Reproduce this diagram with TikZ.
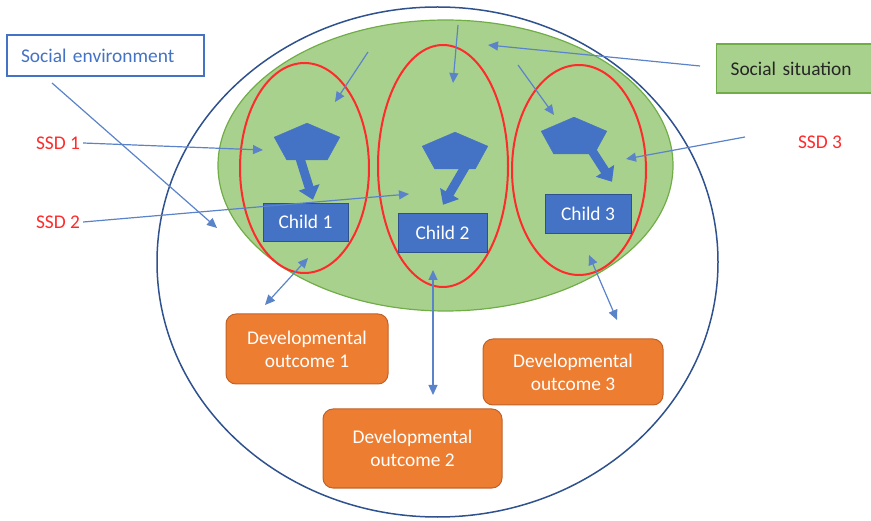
\documentclass[tikz,border=0pt]{standalone}
\usepackage{fontspec}
\setmainfont{Carlito}
\usetikzlibrary{shapes.geometric,arrows.meta,calc}

\definecolor{boxblue}{HTML}{4472C4}
\definecolor{darkblue}{HTML}{2F528F}
\definecolor{linkblue}{HTML}{5B83C9}
\definecolor{leafgreen}{HTML}{A9D18E}
\definecolor{edgegreen}{HTML}{70AD47}
\definecolor{outorange}{HTML}{ED7D31}
\definecolor{edgeorange}{HTML}{C0622A}
\definecolor{ssdred}{HTML}{FF2A2A}

\tikzset{
  lbl/.style={font=\fontsize{19.4}{23}\selectfont},
  child/.style={lbl, rectangle, fill=boxblue, draw=darkblue, text=white, minimum height=38pt, inner sep=0pt},
  outcome/.style={lbl, rectangle, rounded corners=10pt, fill=outorange, draw=edgeorange, line width=1pt, text=white, align=center, inner sep=0pt},
  pent/.style={regular polygon, regular polygon sides=5, minimum size=69pt, inner sep=0pt, fill=boxblue, draw=boxblue, yscale=0.59, transform shape},
  ring/.style={ellipse, inner sep=0pt, draw=ssdred, line width=2pt},
  ssd/.style={lbl, text=ssdred, inner sep=3pt},
  link/.style={draw=linkblue, line width=1.2pt, -{Triangle[length=10pt,width=9pt]}},
  twoway/.style={draw=linkblue, line width=1.2pt, {Triangle[length=10pt,width=9pt]}-{Triangle[length=10pt,width=9pt]}},
  fat/.style={draw=boxblue, line width=9pt, -{Triangle[length=13pt,width=21pt]}},
}

\begin{document}
\begin{tikzpicture}[x=1pt,y=-1pt]
\useasboundingbox (0,0) rectangle (871,521);

% situation and environment
\node[ellipse, inner sep=0pt, fill=leafgreen, draw=edgegreen, line width=1.2pt, minimum width=455pt, minimum height=291pt] (field) at (445.5,165.5) {};
\node[ellipse, inner sep=0pt, draw=darkblue, line width=1.5pt, minimum width=561pt, minimum height=510pt] (world) at (437.5,262) {};

% one ring per SSD
\node[ring, minimum width=129pt, minimum height=210pt] (ring1) at (304.5,168) {};
\node[ring, minimum width=130pt, minimum height=242pt] (ring2) at (443,166) {};
\node[ring, minimum width=134pt, minimum height=210pt] (ring3) at (579,170) {};

\node[child, minimum width=85pt] (c1) at (305.5,222) {Child 1};
\node[child, minimum width=89pt, minimum height=39pt] (c2) at (442.5,232.5) {Child 2};
\node[child, minimum width=86pt, minimum height=39pt] (c3) at (588,213.5) {Child 3};

\node[pent] (p1) at (307,143.5) {};
\node[pent] (p2) at (455,152.5) {};
\node[pent] (p3) at (574,137.5) {};

\draw[fat] ($(p1)+(-9,8.5)$) -- ($(c1.north)+(7.5,-3)$);
\draw[fat] ($(p2)+(13,9.5)$) -- ($(c2.north)+(0.5,-8)$);
\draw[fat] ($(p3)+(13,5.5)$) -- ($(c3.north)+(24,-12)$);

\node[outcome, minimum width=162pt, minimum height=70pt] (o1) at (307,349) {Developmental\\outcome 1};
\node[outcome, minimum width=179pt, minimum height=79pt] (o2) at (412.5,448.5) {Developmental\\outcome 2};
\node[outcome, minimum width=180pt, minimum height=66pt] (o3) at (573,372) {Developmental\\outcome 3};

% labels
\node[lbl, draw=boxblue, line width=1.2pt, fill=white, text=boxblue, text width=169pt, inner xsep=14pt, minimum height=41pt, align=left] (env) at (105.5,55.5) {Social environment};
\node[lbl, anchor=west, draw=edgegreen, line width=1.2pt, fill=leafgreen, text=black!85, text width=132pt, inner xsep=14pt, minimum height=49pt, align=left] (sit) at (716,68.5) {Social situation};
\node[ssd] (ssd1) at (58,143) {SSD 1};
\node[ssd] (ssd2) at (58,222) {SSD 2};
\node[ssd] (ssd3) at (820,142) {SSD 3};

% free ends
\coordinate (envfoot) at (52,83);
\coordinate (envtip) at (217,228);
\coordinate (ssd1tip) at (263,150);
\coordinate (ssd2tip) at (409,194);
\coordinate (ssd3foot) at (745,137);
\coordinate (ssd3tip) at (626,159);
\coordinate (sitfoot) at (700,66);
\coordinate (sittip) at (488,45);
\coordinate (drop1a) at (368,52);
\coordinate (drop1b) at (335,102);
\coordinate (drop2a) at (458,25);
\coordinate (drop2b) at (453,83);
\coordinate (drop3a) at (518,65);
\coordinate (drop3b) at (554,115);
\coordinate (out1a) at (308,258);
\coordinate (out1b) at (265,305);
\coordinate (out2a) at (433,270);
\coordinate (out2b) at (433,395);
\coordinate (out3a) at (589,255);
\coordinate (out3b) at (617,320);

\draw[link] (envfoot) -- (envtip);
\draw[link] (ssd1.east) -- (ssd1tip);
\draw[link] (ssd2.east) -- (ssd2tip);
\draw[link] (ssd3foot) -- (ssd3tip);
\draw[link] (sitfoot) -- (sittip);
\draw[link] (drop1a) -- (drop1b);
\draw[link] (drop2a) -- (drop2b);
\draw[link] (drop3a) -- (drop3b);
\draw[twoway] (out1a) -- (out1b);
\draw[twoway] (out2a) -- (out2b);
\draw[twoway] (out3a) -- (out3b);
\end{tikzpicture}
\end{document}
